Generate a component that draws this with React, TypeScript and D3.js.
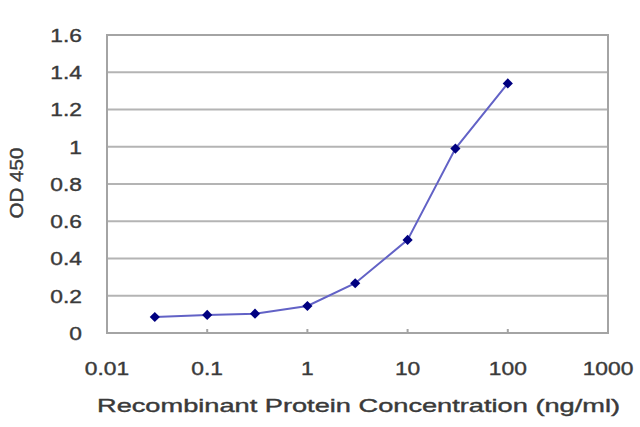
import React from 'react';
import * as d3 from 'd3';

const concentrations = [0.03, 0.1, 0.3, 1, 3, 10, 30, 100];
const odValues = [0.086, 0.097, 0.104, 0.145, 0.267, 0.5, 0.99, 1.34];
const xTicks = [0.01, 0.1, 1, 10, 100, 1000];
const xTickLabels = ['0.01', '0.1', '1', '10', '100', '1000'];
const yTicks = [0, 0.2, 0.4, 0.6, 0.8, 1, 1.2, 1.4, 1.6];
const yTickLabels = ['0', '0.2', '0.4', '0.6', '0.8', '1', '1.2', '1.4', '1.6'];

const width = 640;
const height = 427;
const margin = { top: 35, right: 32, bottom: 94, left: 107 };

const App: React.FC = () => {
  const x = d3.scaleLog().domain([0.01, 1000]).range([margin.left, width - margin.right]);
  const y = d3.scaleLinear().domain([0, 1.6]).range([height - margin.bottom, margin.top]);

  const line = d3.line<number>()
    .x((_, i) => x(concentrations[i]))
    .y(d => y(d));

  const font = '"Liberation Sans", Arial, sans-serif';
  const textColor = '#3a3a3a';
  const stretch = 1.2;
  // faint outline so the text reads as heavy as the blurry original
  const textStroke = { stroke: textColor, strokeWidth: 0.4 };

  return (
    <svg
      width={width}
      height={height}
      style={{ position: 'absolute', left: 0, top: 0, background: '#fff' }}
      fontFamily={font}
    >
      {/* gridlines */}
      {yTicks.map(t => (
        <line
          key={`g${t}`}
          x1={x(0.01)}
          x2={x(1000)}
          y1={y(t)}
          y2={y(t)}
          stroke="#b4b4b4"
          strokeWidth={2}
        />
      ))}
      {/* frame */}
      <rect
        x={x(0.01)}
        y={y(1.6)}
        width={x(1000) - x(0.01)}
        height={y(0) - y(1.6)}
        fill="none"
        stroke="#a4a4a4"
        strokeWidth={2}
      />
      {/* x ticks */}
      {xTicks.map(t => (
        <line
          key={`xt${t}`}
          x1={x(t)}
          x2={x(t)}
          y1={y(0)}
          y2={y(0) - 4}
          stroke="#a4a4a4"
          strokeWidth={2}
        />
      ))}
      {/* y tick labels */}
      {yTicks.map((t, i) => (
        <text
          key={`yl${t}`}
          transform={`translate(${x(0.01) - 25},${y(t)}) scale(${stretch},1)`}
          dy="0.36em"
          textAnchor="end"
          fontSize={19}
          fill={textColor}
          {...textStroke}
        >
          {yTickLabels[i]}
        </text>
      ))}
      {/* x tick labels */}
      {xTicks.map((t, i) => (
        <text
          key={`xl${t}`}
          transform={`translate(${x(t)},${y(0) + 42}) scale(${stretch},1)`}
          textAnchor="middle"
          fontSize={19}
          fill={textColor}
          {...textStroke}
        >
          {xTickLabels[i]}
        </text>
      ))}
      {/* axis titles */}
      <text
        transform={`translate(23, ${(y(0) + y(1.6)) / 2 - 1}) rotate(-90)`}
        textAnchor="middle"
        fontSize={19}
        textLength={71}
        lengthAdjust="spacingAndGlyphs"
        fill={textColor}
        {...textStroke}
      >
        OD 450
      </text>
      <text
        x={97}
        y={412}
        fontSize={19}
        textLength={523}
        lengthAdjust="spacingAndGlyphs"
        fill={textColor}
        {...textStroke}
      >
        Recombinant Protein Concentration (ng/ml)
      </text>
      {/* series */}
      <path d={line(odValues) ?? ''} fill="none" stroke="#6262c6" strokeWidth={2} />
      {odValues.map((v, i) => (
        <path
          key={`m${i}`}
          d={d3.symbol(d3.symbolDiamond2, 66)() ?? ''}
          transform={`translate(${x(concentrations[i])},${y(v)})`}
          fill="#000080"
        />
      ))}
    </svg>
  );
};

export default App;
